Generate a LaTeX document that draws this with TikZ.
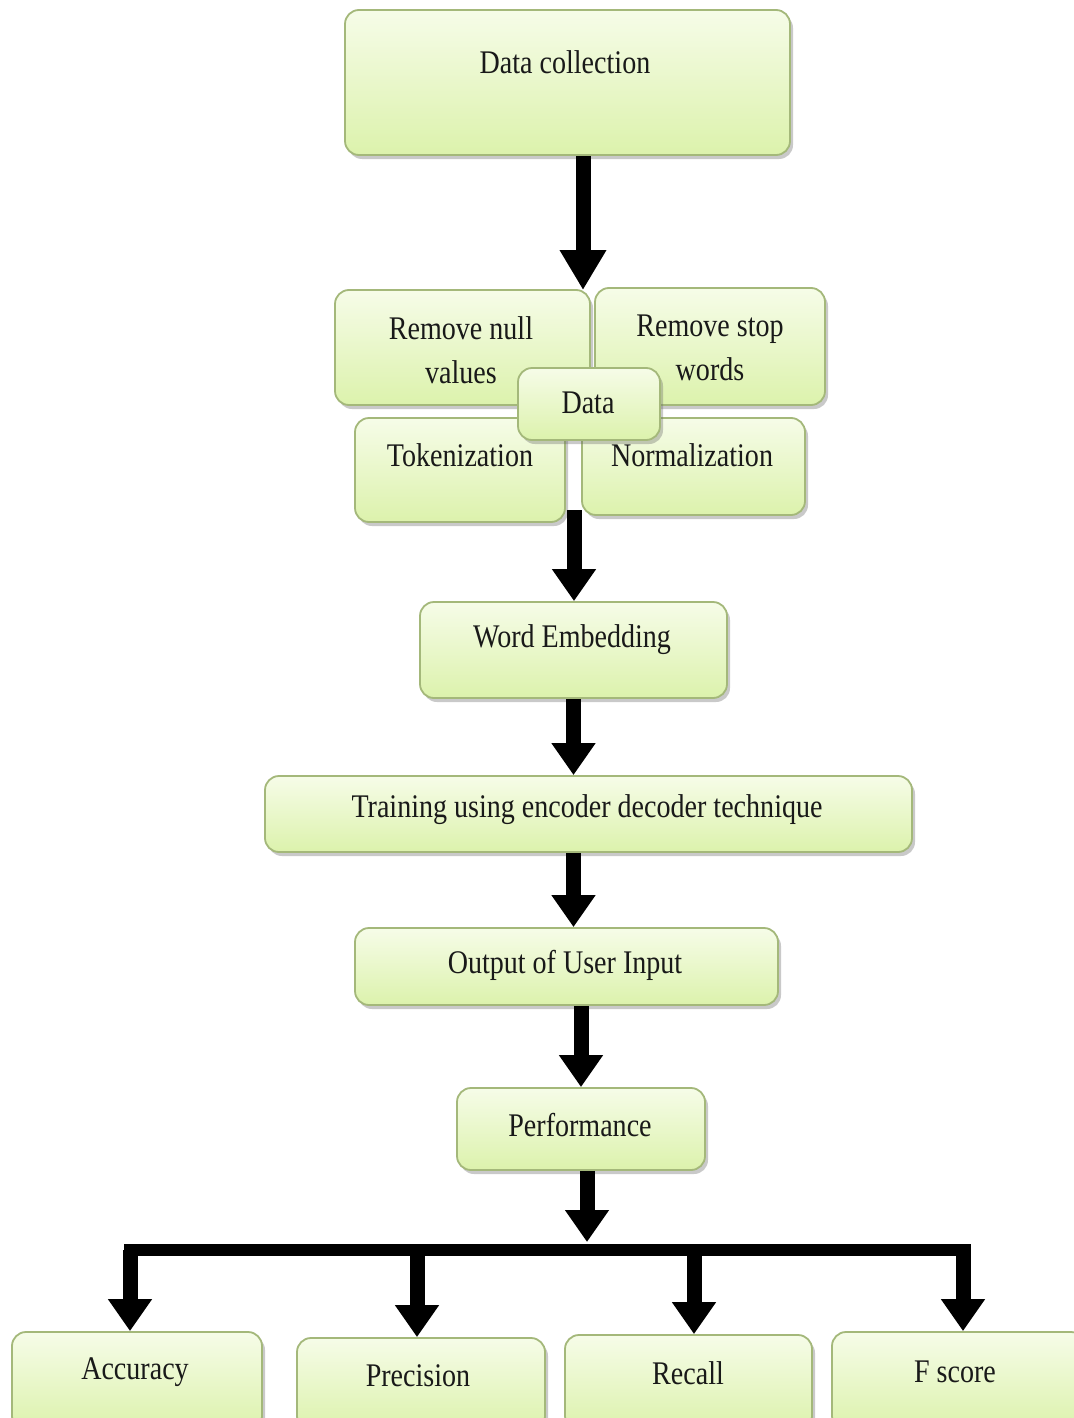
\documentclass[tikz,border=0pt]{standalone}
\usepackage{fontspec}
\setmainfont[FakeStretch=0.85]{Liberation Serif}
\usetikzlibrary{arrows.meta,shadows,fit}
\definecolor{boxtop}{HTML}{F6FCE8}
\definecolor{boxbot}{HTML}{DCF2AC}
\definecolor{boxline}{HTML}{A4B87A}
\begin{document}
\begin{tikzpicture}[x=0.5pt,y=-0.5pt,
  box/.style={draw=boxline, line width=0.9pt, rounded corners=7pt, top color=boxtop, bottom color=boxbot,
    drop shadow={shadow xshift=1.5pt, shadow yshift=-2pt, opacity=0.35, fill=black!60}, inner sep=0pt},
  txt/.style={font=\fontsize{16.5}{22}\selectfont, align=center, text=black!90},
  arr/.style={line width=7.5pt, -{Triangle[width=21pt,length=16pt]}},
  bigarr/.style={line width=7.5pt, -{Triangle[width=22pt,length=20pt]}},
  bar/.style={line width=6pt},
]
\useasboundingbox (0,0) rectangle (1073,1418);
\fill[white] (0,0) rectangle (1073,1418);

% boxes
\node[box, fit={(345,10) (790,155)}] (dc) {};
\node[txt] (dct) at (565,62) {Data collection};

\node[box, fit={(335,290) (590,405)}] (rn) {};
\node[txt] (rnt) at (461,350) {Remove null\\values};
\node[box, fit={(595,288) (825,405)}] (rs) {};
\node[txt] (rst) at (710,348) {Remove stop\\words};
\node[box, fit={(355,418) (565,522)}] (tok) {};
\node[txt] (tokt) at (460,455) {Tokenization};
\node[box, fit={(582,418) (805,515)}] (norm) {};
\node[txt] (normt) at (692,455) {Normalization};
\node[box, fit={(518,368) (660,440)}] (data) {};
\node[txt] (datat) at (588,403) {Data};

\node[box, fit={(420,602) (727,698)}] (we) {};
\node[txt] (wet) at (572,640) {Word Embedding};
\node[box, fit={(265,776) (912,852)}] (tr) {};
\node[txt] (trt) at (587,810) {Training using encoder decoder technique};
\node[box, fit={(355,928) (778,1005)}] (out) {};
\node[txt] (outt) at (565,965) {Output of User Input};
\node[box, fit={(457,1088) (705,1170)}] (perf) {};
\node[txt] (perft) at (580,1125) {Performance};

\node[box, fit={(12,1332) (262,1430)}] (acc) {};
\node[txt] (acct) at (135,1372) {Accuracy};
\node[box, fit={(297,1338) (545,1430)}] (prec) {};
\node[txt] (prect) at (418,1376) {Precision};
\node[box, fit={(565,1335) (812,1430)}] (rec) {};
\node[txt] (rect) at (688,1373) {Recall};
\node[box, fit={(832,1332) (1085,1430)}] (fs) {};
\node[txt] (fst) at (955,1372) {F score};

% coordinates
\coordinate (ctop) at (583,290);
\coordinate (cbot) at (574,510);
\coordinate (bartop) at (587,1242);
\coordinate (bl) at (124,1250);
\coordinate (br) at (971,1250);
\coordinate (b1) at (130,1250);
\coordinate (b2) at (417,1256);
\coordinate (b3) at (694,1256);
\coordinate (b4) at (963,1250);

% connectors
\draw[bigarr] (dc.south -| ctop) -- (ctop);
\draw[arr] (cbot) -- (cbot |- we.north);
\draw[arr] (we.south) -- (we.south |- tr.north);
\draw[arr] (tr.south -| we.south) -- (we.south |- out.north);
\draw[arr] (out.south -| perf.north) -- (perf.north);
\draw[arr] (perf.south -| bartop) -- (bartop);
\draw[bar] (bl) -- (br);
\draw[arr] (b1) -- (b1 |- acc.north);
\draw[arr] (b2) -- (b2 |- prec.north);
\draw[arr] (b3) -- (b3 |- rec.north);
\draw[arr] (b4) -- (b4 |- fs.north);
\end{tikzpicture}
\end{document}
